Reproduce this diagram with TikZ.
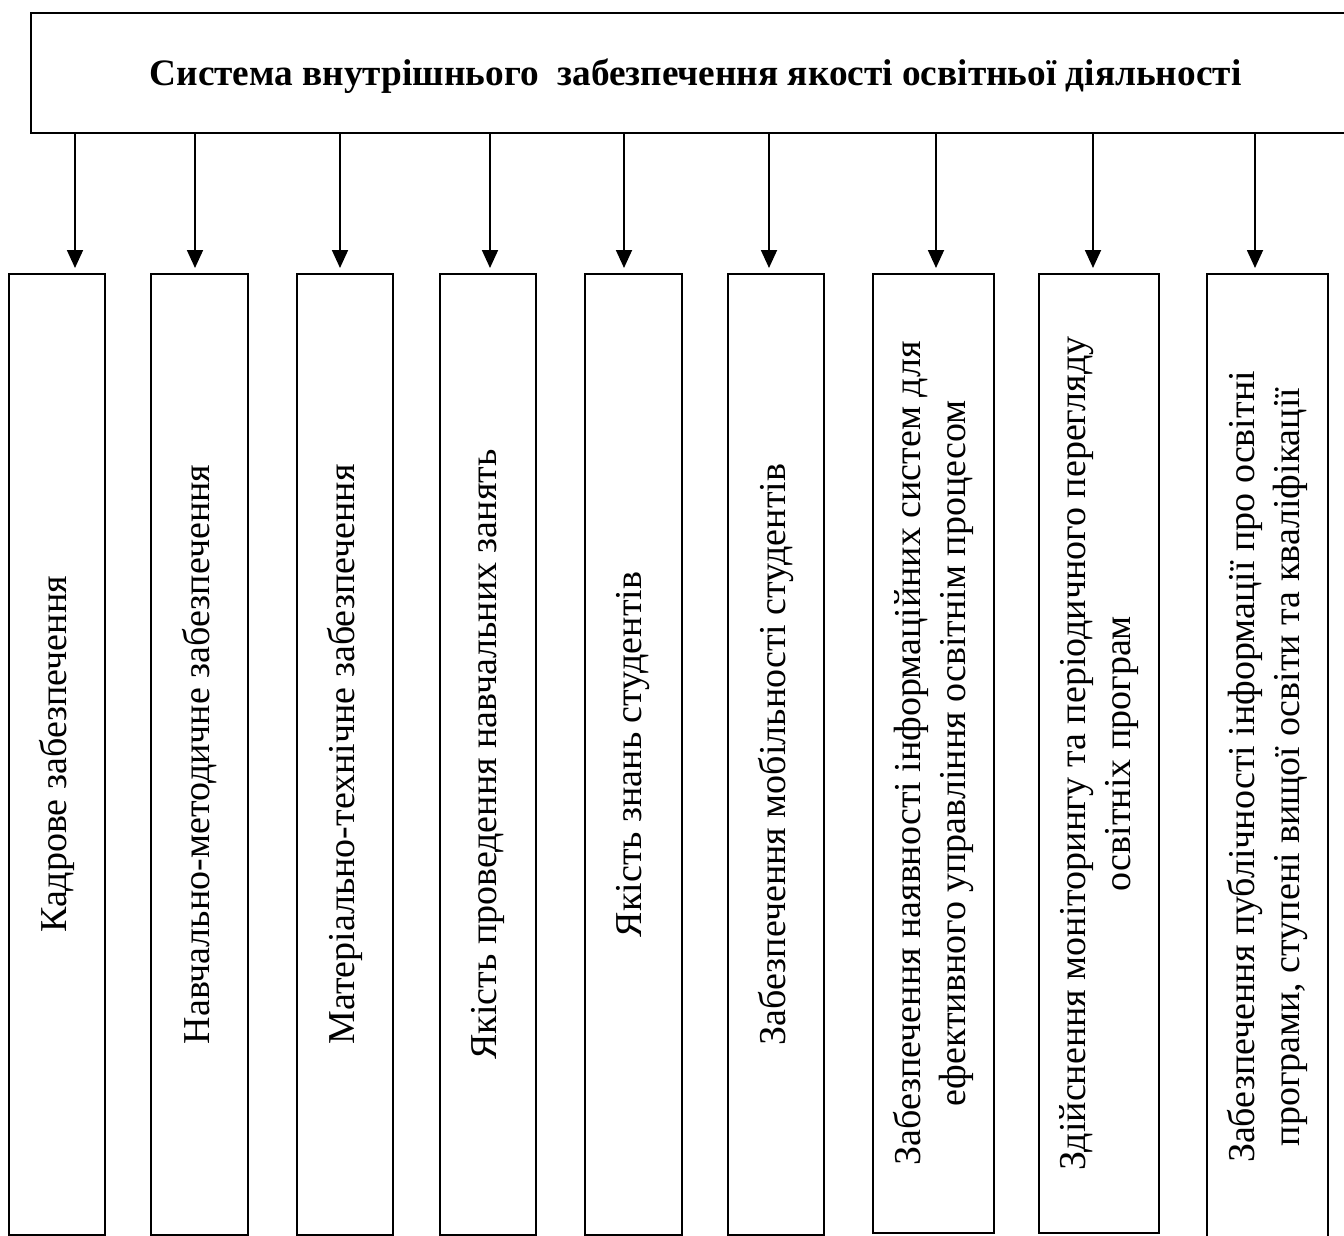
\documentclass[tikz,border=0pt]{standalone}
\usepackage{fontspec}
\setmainfont{Liberation Serif}
\usetikzlibrary{arrows.meta}
\begin{document}
\begin{tikzpicture}[x=1pt,y=-1pt,
  box/.style={draw, line width=1.8pt, inner sep=0pt, align=center, rotate=90,
    font=\fontsize{38}{45}\selectfont},
  arr/.style={line width=1.8pt, -{Triangle[width=16pt,length=18pt]}},
  topbox/.style={draw, line width=1.8pt, inner sep=0pt,
    font=\bfseries\fontsize{37.3}{42}\selectfont}]
\useasboundingbox (0,0) rectangle (1344,1236);
\clip (0,0) rectangle (1344,1236);
\fill[white] (0,0) rectangle (1344,1236);

\node[topbox, minimum width=1329pt, minimum height=120pt] (top) at (695.5,73) {};
\node[font=\bfseries\fontsize{37.3}{42}\selectfont, inner sep=0pt] (title) at (top.center)
  [yshift=-3pt] {Система внутрішнього\ \ забезпечення якості освітньої діяльності};

\node[box, minimum width=961pt, minimum height=96pt] (b1) at (57,754.5) {Кадрове забезпечення};
\node[box, minimum width=961pt, minimum height=97pt] (b2) at (199.5,754.5) {Навчально-методичне забезпечення};
\node[box, minimum width=961pt, minimum height=96pt] (b3) at (345,754.5) {Матеріально-технічне забезпечення};
\node[box, minimum width=961pt, minimum height=96pt] (b4) at (488,754.5) {Якість проведення навчальних занять};
\node[box, minimum width=961pt, minimum height=97pt] (b5) at (633.5,754.5) {Якість знань студентів};
\node[box, minimum width=961pt, minimum height=96pt] (b6) at (776,754.5) {Забезпечення мобільності студентів};
\node[box, minimum width=959pt, minimum height=121pt] (b7) at (933.5,753.5)
  {Забезпечення наявності інформаційних систем для\\ефективного управління освітнім процесом};
\node[box, minimum width=959pt, minimum height=120pt] (b8) at (1099,753.5)
  {Здійснення моніторингу та періодичного перегляду\\освітніх програм};
\node[box, minimum width=986pt, minimum height=121pt] (b9) at (1267.5,767)
  {Забезпечення публічності інформації про освітні\\програми, ступені вищої освіти та кваліфікації};

\foreach \i/\x in {1/75,2/195,3/340,4/490,5/624,6/769,7/936,8/1093,9/1255}{
  \coordinate (t\i) at (\x,268);
  \draw[arr] (top.south -| t\i) -- (t\i);
}
\end{tikzpicture}
\end{document}
